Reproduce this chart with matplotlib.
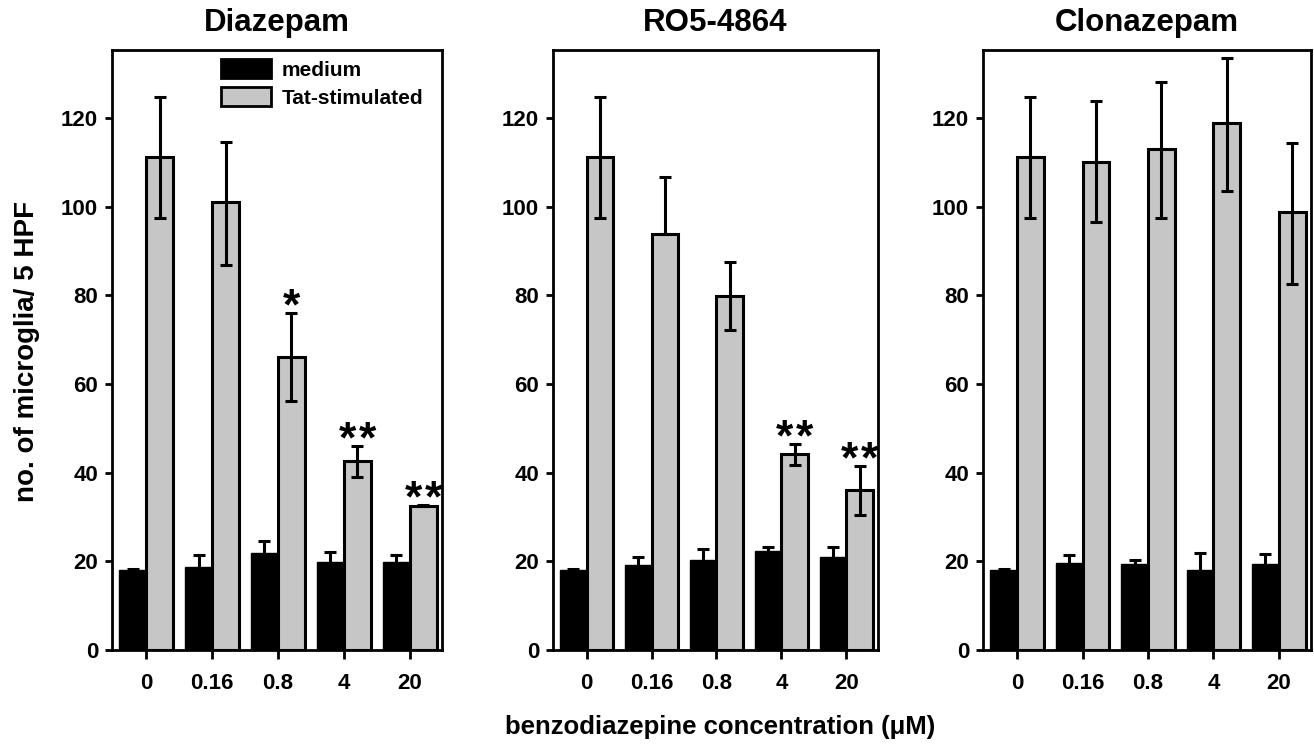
import numpy as np
import matplotlib
matplotlib.use("Agg")
import matplotlib.pyplot as plt
from matplotlib.patches import Patch

plt.rcParams["font.family"] = ["Liberation Sans", "DejaVu Sans"]
plt.rcParams["font.weight"] = "bold"

concentrations = ["0", "0.16", "0.8", "4", "20"]
drugs = ["Diazepam", "RO5-4864", "Clonazepam"]

# medium (black bars)
medium_mean = {
    "Diazepam":   [18.0, 18.7, 21.9, 19.9, 19.9],
    "RO5-4864":   [18.0, 19.2, 20.3, 22.3, 21.0],
    "Clonazepam": [18.0, 19.6, 19.4, 18.0, 19.4],
}
medium_err = {
    "Diazepam":   [0.3, 2.7, 2.7, 2.2, 1.5],
    "RO5-4864":   [0.3, 1.8, 2.5, 1.0, 2.2],
    "Clonazepam": [0.3, 1.8, 0.9, 3.9, 2.3],
}

# Tat-stimulated (grey bars)
tat_mean = {
    "Diazepam":   [111.3, 101.1, 66.1, 42.7, 32.6],
    "RO5-4864":   [111.3, 93.9, 79.9, 44.2, 36.1],
    "Clonazepam": [111.3, 110.2, 113.1, 118.9, 98.9],
}
tat_err_low = {
    "Diazepam":   [13.8, 14.2, 9.9, 3.7, 0.2],
    "RO5-4864":   [13.8, 0.0, 7.7, 2.4, 5.6],
    "Clonazepam": [13.8, 13.7, 15.6, 15.3, 16.3],
}
tat_err_high = {
    "Diazepam":   [13.5, 13.6, 10.0, 3.3, 0.2],
    "RO5-4864":   [13.5, 12.9, 7.7, 2.3, 5.4],
    "Clonazepam": [13.5, 13.8, 15.1, 14.7, 15.6],
}
# number of significance asterisks per bar
stars = {
    "Diazepam":   [0, 0, 1, 2, 2],
    "RO5-4864":   [0, 0, 0, 2, 2],
    "Clonazepam": [0, 0, 0, 0, 0],
}

W, H = 1314, 751
fig = plt.figure(figsize=(W / 100, H / 100), dpi=100)

panel_px = [(112, 442), (553, 878), (983, 1311)]
ax_bottom = 1 - 650 / H
ax_height = 600 / H

x = np.arange(len(concentrations))
bw = 0.41
grey = "#c6c6c6"

for k, drug in enumerate(drugs):
    l, r = panel_px[k]
    ax = fig.add_axes([l / W, ax_bottom, (r - l) / W, ax_height])

    ax.bar(x - bw / 2, medium_mean[drug], bw, color="black", edgecolor="black",
           linewidth=1, zorder=2)
    ax.errorbar(x - bw / 2, medium_mean[drug], yerr=medium_err[drug], fmt="none",
                ecolor="black", elinewidth=2.2, capsize=4.5, capthick=2.2, zorder=3)

    ax.bar(x + bw / 2, tat_mean[drug], bw, color=grey, edgecolor="black",
           linewidth=2.2, zorder=2)
    ax.errorbar(x + bw / 2, tat_mean[drug],
                yerr=[tat_err_low[drug], tat_err_high[drug]], fmt="none",
                ecolor="black", elinewidth=2.2, capsize=4.5, capthick=2.2, zorder=3)

    for i, n in enumerate(stars[drug]):
        if n == 0:
            continue
        top = tat_mean[drug][i] + tat_err_high[drug][i]
        offsets = [0] if n == 1 else [-7.2, 7.2]
        for dx in offsets:
            ax.annotate("*", (x[i] + bw / 2, top - 1.5), xytext=(dx, 0),
                        textcoords="offset points", ha="center", va="baseline",
                        fontsize=32, fontweight="bold")

    ax.set_xlim(-0.52, 4.49)
    ax.set_ylim(0, 135.4)
    ax.set_yticks([0, 20, 40, 60, 80, 100, 120])
    ax.set_xticks(x)
    ax.set_xticklabels(concentrations)
    ax.tick_params(axis="y", direction="out", length=5, width=2, pad=5, labelsize=16)
    ax.tick_params(axis="x", direction="out", length=6.5, width=2, pad=10, labelsize=16)
    for sp in ax.spines.values():
        sp.set_linewidth(2)

    fig.text((l + r) / 2 / W, 1 - 23 / H, drug, ha="center", va="center",
             fontsize=22.5, fontweight="bold")

    if k == 0:
        handles = [Patch(facecolor="black", edgecolor="black", linewidth=2),
                   Patch(facecolor=grey, edgecolor="black", linewidth=2)]
        ax.legend(handles, ["medium", "Tat-stimulated"], loc="upper left",
                  bbox_to_anchor=(0.33, 0.985), frameon=False, fontsize=15,
                  handlelength=2.4, handleheight=1.05, handletextpad=0.5,
                  labelspacing=0.35, borderpad=0, borderaxespad=0)

fig.text(27 / W, 1 - 351 / H, "no. of microglia/ 5 HPF", rotation=90,
         ha="center", va="center", fontsize=20, fontweight="bold")
fig.text(720 / W, 1 - 727 / H, "benzodiazepine concentration (\u03bcM)",
         ha="center", va="center", fontsize=18.5, fontweight="bold")

fig.savefig("out.png", dpi=100)
